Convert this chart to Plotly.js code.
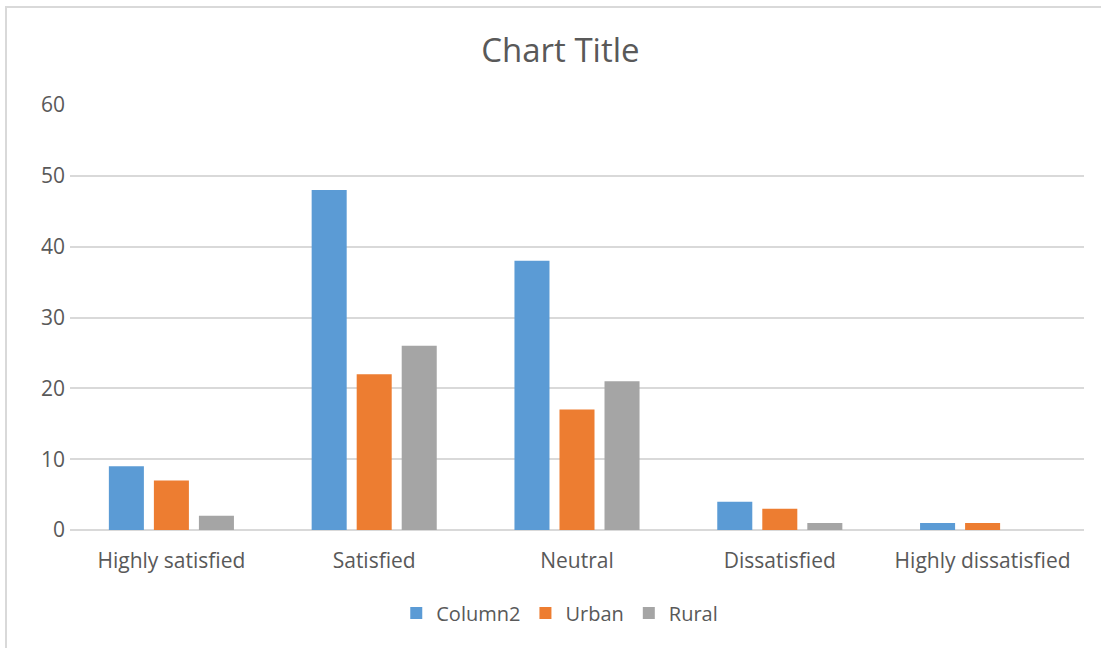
<!DOCTYPE html>
<html>
<head>
<meta charset="utf-8">
<script src="https://cdn.plot.ly/plotly-3.0.1.min.js"></script>
<style>
  html, body { margin: 0; padding: 0; background: #fff; overflow: hidden; }
  #frame { position: absolute; left: 5px; top: 6px; width: 1110px; height: 660px;
           border: 2px solid #d9d9d9; box-sizing: border-box; pointer-events: none; }
  #chart { position: absolute; left: 0; top: 0; width: 1101px; height: 648px; }
</style>
</head>
<body>
<div id="chart"></div>
<div id="frame"></div>
<script>
// Satisfaction levels and counts per series
const categories = ["Highly satisfied", "Satisfied", "Neutral", "Dissatisfied", "Highly dissatisfied"];
const column2 = [9, 48, 38, 4, 1];
const urban = [7, 22, 17, 3, 1];
const rural = [2, 26, 21, 1, 0];
const yTicks = [0, 10, 20, 30, 40, 50, 60];

const font = "'Open Sans', 'Liberation Sans', sans-serif";
const textColor = "#595959";

const traces = [
  { name: "Column2", y: column2, color: "#5B9BD5" },
  { name: "Urban", y: urban, color: "#ED7D31" },
  { name: "Rural", y: rural, color: "#A5A5A5" }
].map(s => ({
  type: "bar",
  x: categories,
  y: s.y,
  name: s.name,
  marker: { color: s.color },
  hoverinfo: "x+y+name"
}));

const layout = {
  width: 1101,
  height: 648,
  margin: { l: 70, r: 17, t: 105, b: 118 },
  paper_bgcolor: "#fff",
  plot_bgcolor: "#fff",
  font: { family: font, color: textColor, size: 20 },
  title: {
    text: "Chart Title",
    font: { family: font, size: 33, color: textColor },
    x: 0.509, xanchor: "center",
    y: 0.922, yanchor: "middle"
  },
  barmode: "group",
  bargap: 0.334,
  bargroupgap: 0.222,
  xaxis: {
    type: "category",
    tickfont: { family: font, size: 21, color: textColor },
    showgrid: false,
    showline: false,
    ticks: "",
    ticklabelstandoff: 16
  },
  yaxis: {
    range: [0, 60],
    tickvals: yTicks,
    ticktext: yTicks.map(String),
    tickfont: { family: font, size: 21, color: textColor },
    gridcolor: "#d9d9d9",
    gridwidth: 1.5,
    zeroline: true,
    zerolinecolor: "#d9d9d9",
    zerolinewidth: 1.5,
    showline: false,
    ticks: "",
    ticklabelstandoff: 4
  },
  legend: {
    orientation: "h",
    x: 0.483, xanchor: "center",
    y: -0.195, yanchor: "middle",
    font: { family: font, size: 20, color: textColor },
    itemwidth: 30,
    traceorder: "normal"
  },
  showlegend: true
};

Plotly.newPlot("chart", traces, layout, { displayModeBar: false, responsive: false });
</script>
</body>
</html>
